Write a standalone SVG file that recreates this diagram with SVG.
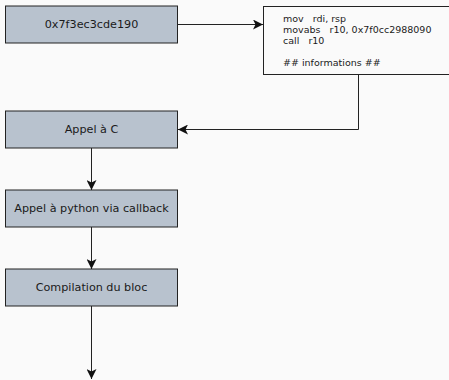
<svg xmlns="http://www.w3.org/2000/svg" width="449" height="380" viewBox="0 0 449 380">
  <style>
    .box { fill: #b8c2ce; stroke: #222; stroke-width: 1; }
    .code { fill: #fafafa; stroke: #222; stroke-width: 1; }
    .lbl { font-family: "DejaVu Sans", sans-serif; font-size: 11.2px; fill: #1a1a1a; text-anchor: middle; dominant-baseline: central; }
    .asm { font-family: "DejaVu Sans", sans-serif; font-size: 9.5px; fill: #1a1a1a; white-space: pre; }
    .edge { fill: none; stroke: #222; stroke-width: 1; }
  </style>
  <defs>
    <marker id="arrow" viewBox="0 0 10 10" refX="10" refY="5" markerWidth="10" markerHeight="10" markerUnits="userSpaceOnUse" orient="auto">
      <path d="M0,0 L10,5 L0,10 L2.5,5 Z" fill="#111"/>
    </marker>
  </defs>
  <rect width="449" height="380" fill="#fafafa"/>

  <g id="addr">
    <rect class="box" x="5.5" y="6" width="172" height="37"/>
    <text class="lbl" x="91.5" y="24.5">0x7f3ec3cde190</text>
  </g>

  <g id="trampoline">
    <rect class="code" x="263.5" y="6.5" width="200" height="68"/>
    <text class="asm" xml:space="preserve" x="283" y="22">mov   rdi, rsp</text>
    <text class="asm" xml:space="preserve" x="283" y="33">movabs   r10, 0x7f0cc2988090</text>
    <text class="asm" xml:space="preserve" x="283" y="44">call   r10</text>
    <text class="asm" xml:space="preserve" x="283" y="66">## informations ##</text>
  </g>

  <g id="appel-c">
    <rect class="box" x="5.5" y="111" width="172" height="37"/>
    <text class="lbl" x="91.5" y="129.5">Appel à C</text>
  </g>

  <g id="appel-python">
    <rect class="box" x="5.5" y="190" width="172" height="37"/>
    <text class="lbl" x="91.5" y="208.5">Appel à python via callback</text>
  </g>

  <g id="compilation">
    <rect class="box" x="5.5" y="269" width="172" height="37"/>
    <text class="lbl" x="91.5" y="287.5">Compilation du bloc</text>
  </g>

  <g id="connectors">
    <path class="edge" d="M177.5,24.5 H263" marker-end="url(#arrow)"/>
    <path class="edge" d="M358.5,74.5 V129.5 H178" marker-end="url(#arrow)"/>
    <path class="edge" d="M91.5,148 V190" marker-end="url(#arrow)"/>
    <path class="edge" d="M91.5,227 V269" marker-end="url(#arrow)"/>
    <path class="edge" d="M91.5,306 V379" marker-end="url(#arrow)"/>
  </g>
</svg>
